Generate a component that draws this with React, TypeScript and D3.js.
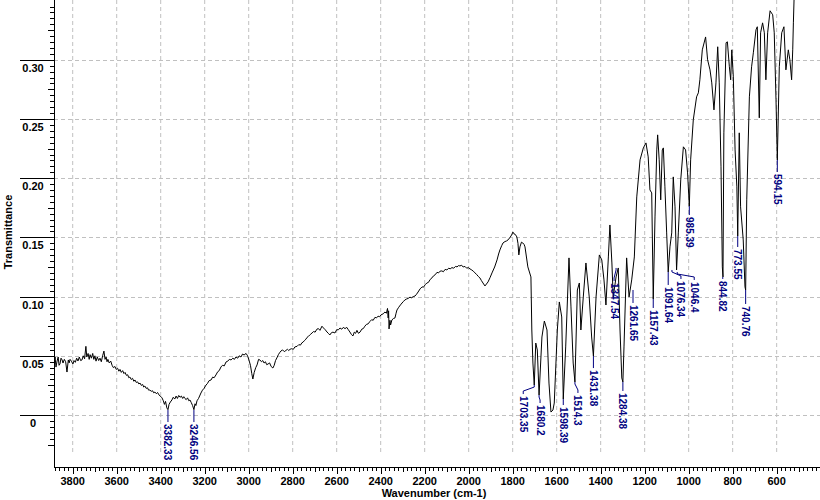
import React from "react";
import * as d3 from "d3";

// Spectrum trace: [wavenumber (cm-1), transmittance]
const spectrum: [number, number][] = [
  [3885,0.0439],[3880,0.0490],[3876,0.0405],[3871,0.0456],[3866,0.0490],[3862,0.0420],[3858,0.0431],[3853,0.0480],[3848,0.0465],[3844,0.0439],[3838,0.0470],[3832,0.0450],[3826,0.0363],[3820,0.0465],[3816,0.0440],[3812,0.0470],[3806,0.0455],[3799,0.0431],[3794,0.0460],[3788,0.0445],[3782,0.0480],[3776,0.0456],[3770,0.0490],[3764,0.0460],[3758,0.0465],[3752,0.0500],[3746,0.0475],[3740,0.0580],[3736,0.0490],[3730,0.0520],[3725,0.0470],[3721,0.0510],[3715,0.0480],[3709,0.0520],[3704,0.0470],[3699,0.0500],[3694,0.0455],[3688,0.0490],[3682,0.0460],[3676,0.0480],[3670,0.0450],[3664,0.0500],[3658,0.0540],[3653,0.0470],[3648,0.0490],[3644,0.0450],[3640,0.0470],[3634,0.0440],[3627,0.0455],[3621,0.0420],[3615,0.0400],[3608,0.0410],[3602,0.0385],[3596,0.0395],[3590,0.0370],[3585,0.0385],[3579,0.0360],[3573,0.0375],[3567,0.0350],[3562,0.0360],[3556,0.0335],[3550,0.0340],[3545,0.0315],[3540,0.0321],[3534,0.0300],[3528,0.0310],[3522,0.0285],[3517,0.0296],[3511,0.0275],[3505,0.0280],[3499,0.0262],[3494,0.0270],[3488,0.0250],[3482,0.0258],[3477,0.0236],[3472,0.0245],[3466,0.0225],[3460,0.0230],[3455,0.0210],[3449,0.0211],[3443,0.0200],[3437,0.0205],[3432,0.0188],[3426,0.0194],[3420,0.0180],[3414,0.0190],[3408,0.0170],[3402,0.0160],[3394,0.0145],[3388,0.0120],[3383,0.0090],[3378,0.0115],[3372,0.0060],[3367,0.0045],[3362,0.0090],[3356,0.0110],[3349,0.0127],[3343,0.0150],[3336,0.0135],[3330,0.0160],[3324,0.0140],[3318,0.0165],[3312,0.0150],[3306,0.0160],[3300,0.0140],[3295,0.0155],[3290,0.0140],[3284,0.0130],[3278,0.0145],[3272,0.0120],[3267,0.0127],[3261,0.0105],[3255,0.0080],[3249,0.0045],[3244,0.0095],[3240,0.0080],[3235,0.0120],[3228,0.0140],
  [3217,0.0186],[3210,0.0210],[3203,0.0225],[3194,0.0253],[3188,0.0265],[3180,0.0290],[3171,0.0296],[3164,0.0320],[3157,0.0315],[3149,0.0338],[3141,0.0365],[3134,0.0375],[3126,0.0406],[3119,0.0420],[3111,0.0415],[3103,0.0448],[3095,0.0455],[3088,0.0470],[3080,0.0465],[3072,0.0480],[3065,0.0470],[3058,0.0490],[3050,0.0480],[3043,0.0500],[3035,0.0490],[3028,0.0515],[3021,0.0507],[3012,0.0520],[3005,0.0500],[2999,0.0465],[2992,0.0420],[2986,0.0350],[2981,0.0304],[2975,0.0360],[2968,0.0400],[2962,0.0423],[2955,0.0470],[2949,0.0465],[2942,0.0450],[2936,0.0460],[2930,0.0439],[2924,0.0450],[2918,0.0425],[2912,0.0431],[2905,0.0440],[2898,0.0410],[2890,0.0397],[2884,0.0420],[2878,0.0460],[2872,0.0482],[2865,0.0510],[2858,0.0530],[2853,0.0541],[2846,0.0550],[2838,0.0535],[2831,0.0545],[2824,0.0555],[2818,0.0545],[2812,0.0555],[2805,0.0560],[2797,0.0555],[2790,0.0575],[2780,0.0580],[2772,0.0595],[2765,0.0590],[2758,0.0610],[2753,0.0615],[2746,0.0630],[2740,0.0640],[2735,0.0655],[2728,0.0665],[2720,0.0680],[2712,0.0693],[2705,0.0705],[2698,0.0700],[2690,0.0725],[2683,0.0730],[2676,0.0715],[2667,0.0750],[2660,0.0735],[2652,0.0720],[2644,0.0701],[2638,0.0690],[2631,0.0676],[2624,0.0695],[2617,0.0700],[2608,0.0693],[2600,0.0720],[2592,0.0720],[2585,0.0735],[2577,0.0725],[2570,0.0740],[2562,0.0730],[2554,0.0740],[2547,0.0720],[2540,0.0701],[2533,0.0680],[2526,0.0668],[2520,0.0700],[2514,0.0690],[2508,0.0715],[2501,0.0690],[2494,0.0700],[2486,0.0725],[2479,0.0730],[2472,0.0750],[2465,0.0765],[2457,0.0770],[2449,0.0790],[2441,0.0805],[2434,0.0800],[2426,0.0825],[2419,0.0820],[2412,0.0835],[2405,0.0830],[2399,0.0845],[2394,0.0850],[2388,0.0855],[2381,0.0870],[2374,0.0860],[2369,0.0900],[2366,0.0820],[2364,0.0880],[2362,0.0727],[2358,0.0800],[2355,0.0760],[2349,0.0803],[2342,0.0815],[2335,0.0820],[2330,0.0860],[2326,0.0887],[2318,0.0910],[2310,0.0930],[2303,0.0946],[2296,0.0960],[2290,0.0972],[2282,0.0980],[2275,0.0985],[2267,0.0995],[2260,0.0990],[2252,0.1000],[2244,0.1005],[2237,0.1020],[2230,0.1039],[2221,0.1065],[2212,0.1082],[2205,0.1080],[2198,0.1100],[2190,0.1115],[2183,0.1120],[2175,0.1145],[2167,0.1158],[2160,0.1175],[2152,0.1185],[2144,0.1205],[2137,0.1200],[2130,0.1215],[2122,0.1217],[2115,0.1210],[2107,0.1230],[2099,0.1225],[2091,0.1240],[2084,0.1235],[2076,0.1245],[2068,0.1240],[2060,0.1255],[2053,0.1251],[2046,0.1262],[2040,0.1259],[2032,0.1265],[2025,0.1250],[2017,0.1255],[2009,0.1240],[2002,0.1245],[1994,0.1234],[1986,0.1225],[1979,0.1215],[1971,0.1200],[1963,0.1185],[1956,0.1170],[1949,0.1158],[1942,0.1135],[1935,0.1115],[1926,0.1090],
  [1912,0.1124],[1903,0.1160],[1894,0.1200],[1882,0.1250],[1871,0.1310],[1864,0.1360],[1858,0.1394],[1850,0.1430],[1844,0.1453],[1835,0.1465],[1828,0.1470],[1821,0.1479],[1812,0.1500],[1805,0.1520],[1799,0.1545],[1794,0.1530],[1788,0.1525],[1781,0.1504],[1776,0.1450],[1772,0.1352],[1767,0.1420],[1760,0.1460],[1754,0.1453],[1748,0.1440],[1744,0.1420],[1731,0.1251],[1717,0.1166],[1713,0.0718],[1708,0.0439],[1702,0.0253],[1695,0.0608],[1688,0.0549],[1680,0.0169],[1667,0.0659],[1656,0.0794],[1644,0.0718],[1635,0.0270],[1626,0.0025],[1617,0.0042],[1611,0.0101],[1597,0.0718],[1588,0.0955],[1577,0.0828],[1570,0.0135],[1559,0.0575],[1544,0.1327],[1535,0.0913],[1525,0.0439],[1517,0.0279],[1506,0.1056],[1497,0.1115],[1490,0.0718],[1479,0.0997],[1467,0.1284],[1452,0.0997],[1441,0.0659],[1433,0.0498],[1421,0.0997],[1406,0.1352],[1395,0.1310],[1385,0.1141],[1376,0.0929],[1365,0.1335],[1358,0.1605],[1349,0.1284],[1343,0.0997],[1330,0.1166],[1320,0.1242],[1312,0.0718],[1304,0.0313],[1299,0.0279],[1294,0.0575],[1282,0.1327],[1271,0.0997],[1259,0.1141],[1247,0.1335],[1236,0.1842],[1221,0.2155],[1206,0.2256],[1194,0.2298],[1184,0.2180],[1176,0.1901],[1168,0.1876],[1161,0.0980],[1153,0.1673],[1145,0.2239],[1141,0.2366],[1134,0.2155],[1127,0.1817],[1120,0.2239],[1115,0.2256],[1108,0.1927],[1100,0.1538],[1093,0.1208],[1085,0.1420],[1077,0.1538],[1070,0.2011],[1062,0.1758],[1055,0.1225],[1047,0.1538],[1036,0.1986],[1024,0.2265],[1014,0.2239],[1005,0.2045],[997,0.1765],[991,0.2155],[979,0.2493],[964,0.2687],[956,0.2721],[949,0.2831],[938,0.3084],[923,0.3193],[914,0.3000],[903,0.2915],[895,0.2805],[885,0.2577],[876,0.2805],[868,0.3110],[861,0.2805],[853,0.2096],[847,0.1251],[844,0.1166],[840,0.2383],[830,0.3144],[824,0.3152],[815,0.2941],[809,0.2831],[804,0.3084],[797,0.2856],[789,0.2239],[781,0.1927],[777,0.1512],[770,0.2383],[764,0.1758],[752,0.1479],[744,0.1082],[741,0.1056],[736,0.1817],[724,0.2687],[714,0.2941],[706,0.3059],[694,0.3253],[688,0.3279],[679,0.2510],[673,0.3228],[664,0.3312],[656,0.3228],[649,0.2831],[641,0.3228],[630,0.3414],[618,0.3380],[611,0.3228],[603,0.2662],[597,0.2154],[588,0.2941],[577,0.3228],[567,0.3279],[558,0.2915],[547,0.3084],[540,0.3000],[532,0.2831],[527,0.3084],[524,0.3312],[521,0.3505],[516,0.37]
];

// Peak labels: [text, tip wavenumber, tip transmittance]
const peaks: [string, number, number][] = [
  ["3382.33",3367,0.0042],["3246.56",3249,0.0042],["1703.35",1702,0.0253],["1680.2",1680,0.0169],
  ["1598.39",1570,0.0135],["1514.3",1517,0.0279],["1431.38",1433,0.0498],["1284.38",1299,0.0279],
  ["1347.54",1330,0.1242],["1261.65",1253,0.1056],["1157.43",1161,0.0980],["1091.64",1093,0.1208],
  ["1076.34",1076,0.1225],["1046.4",1052,0.1208],["985.39",997,0.1765],["844.82",845,0.1166],
  ["773.55",777,0.1512],["740.76",741,0.1056],["594.15",597,0.2154]
];
// label leader layout: [dx of text column, leader length in px]
const peakLayout: [number, number][] = [
  [0,12],[0,12],[-11,9],[1,8],[0,6],[3,11],[0,12],[0,9],[-2,13],[0,13],[0,9],[0,13],[9,9],[17,8],[0,9],[0,2],[0,11],[0,14],[0,12]
];

const xGridTicks = d3.range(600, 3801, 200);
const yGridTicks = [0, 0.05, 0.1, 0.15, 0.2, 0.25, 0.3];
const yLabels = ["0", "0.05", "0.10", "0.15", "0.20", "0.25", "0.30"];

const FONT = "'Liberation Sans', Arial, sans-serif";

export default function App() {
  const W = 820, H = 500;
  const left = 54, right = 820, top = 0, bottom = 467;
  const x = d3.scaleLinear().domain([3885, 403]).range([left, right]);
  const y = d3.scaleLinear().domain([-0.0439, 0.3505]).range([bottom, top]);
  const line = d3.line<[number, number]>().x(d => x(d[0])).y(d => y(d[1]));

  const xMinor = d3.range(420, 3885, 20);
  const yMinor = d3.range(-25, 351, 5).map(v => v / 1000);

  return (
    <svg width={W} height={H} style={{ position: "absolute", left: 0, top: 0, background: "#fff" }}>
      <rect x={0} y={0} width={W} height={H} fill="#fff" />
      <defs>
        <clipPath id="plot">
          <rect x={left} y={top} width={right - left} height={bottom - top} />
        </clipPath>
      </defs>
      {xGridTicks.map(t => (
        <line key={"gx" + t} x1={x(t)} x2={x(t)} y1={0} y2={452} stroke="#c0c0c0" strokeDasharray="4,3" />
      ))}
      {yGridTicks.map(t => (
        <line key={"gy" + t} x1={left} x2={right} y1={Math.round(y(t)) + 0.5} y2={Math.round(y(t)) + 0.5} stroke="#c0c0c0" strokeDasharray="4,3" />
      ))}
      <path d={line(spectrum) || ""} fill="none" stroke="#000" strokeWidth={1} clipPath="url(#plot)" />
      {peaks.map((p, i) => {
        const [txt, w, v] = p;
        const [dx, len] = peakLayout[i];
        const tx = x(w), ty = y(v);
        const pts = dx === 0
          ? `${tx},${ty} ${tx},${ty + len}`
          : `${tx},${ty} ${tx},${ty + 2} ${tx + dx},${ty + len - 3} ${tx + dx},${ty + len}`;
        return (
          <g key={txt}>
            <polyline points={pts} fill="none" stroke="#000080" strokeWidth={1} />
            <text transform={`translate(${tx + dx},${ty + len + 2}) rotate(90)`} fontFamily={FONT} fontWeight="bold" fontSize={10} fill="#000080" dominantBaseline="central">{txt}</text>
          </g>
        );
      })}
      <line x1={left + 0.5} x2={left + 0.5} y1={0} y2={bottom} stroke="#000" />
      <line x1={left} x2={right} y1={bottom + 0.5} y2={bottom + 0.5} stroke="#000" />
      {xMinor.map(t => {
        const len = t % 200 === 0 ? 7 : t % 100 === 0 ? 5 : 4;
        return <line key={"xm" + t} x1={Math.round(x(t)) + 0.5} x2={Math.round(x(t)) + 0.5} y1={bottom} y2={bottom + len} stroke="#000" />;
      })}
      {yMinor.map(t => {
        const k = Math.round(t * 1000);
        if (k % 50 === 0) return null;
        const len = k % 25 === 0 ? 6 : 4;
        return <line key={"ym" + k} x1={left - len} x2={left} y1={Math.round(y(t)) + 0.5} y2={Math.round(y(t)) + 0.5} stroke="#000" />;
      })}
      {yGridTicks.map((t, i) => (
        <g key={"yl" + t}>
          <line x1={20} x2={left} y1={Math.round(y(t)) + 0.5} y2={Math.round(y(t)) + 0.5} stroke="#000" />
          <text x={33} y={y(t) + 12} textAnchor="middle" fontFamily={FONT} fontWeight="bold" fontSize={11} fill="#000">{yLabels[i]}</text>
        </g>
      ))}
      {xGridTicks.map(t => (
        <text key={"xl" + t} x={x(t)} y={485} textAnchor="middle" fontFamily={FONT} fontWeight="bold" fontSize={11} fill="#000">{t}</text>
      ))}
      <text x={434} y={497} textAnchor="middle" fontFamily={FONT} fontWeight="bold" fontSize={11} fill="#000">Wavenumber (cm-1)</text>
      <text transform="translate(12,232) rotate(-90)" textAnchor="middle" fontFamily={FONT} fontWeight="bold" fontSize={11} fill="#000">Transmittance</text>
    </svg>
  );
}
